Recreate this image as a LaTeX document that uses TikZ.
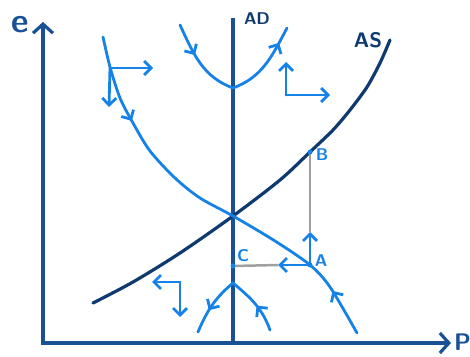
\documentclass[tikz,border=0pt]{standalone}
\usetikzlibrary{arrows.meta, decorations.markings}

\definecolor{axisblue}{RGB}{26,80,148}
\definecolor{asblue}{RGB}{14,58,112}
\definecolor{flowblue}{RGB}{22,130,232}
\definecolor{guidegray}{RGB}{160,160,160}

\tikzset{
  axisline/.style={axisblue, line width=3.2pt,
    {Straight Barb[length=9pt,width=20pt]}-{Straight Barb[length=9pt,width=20pt]}},
  flow/.style={flowblue, line width=2.8pt, line cap=round},
  flowarrow/.style={flow, -{Straight Barb[length=7pt,width=14pt]}},
  fwd/.style={postaction={decorate, decoration={markings,
    mark=at position #1 with {\arrow{Straight Barb[length=7pt,width=14pt]}}}}},
  bwd/.style={postaction={decorate, decoration={markings,
    mark=at position #1 with {\arrowreversed{Straight Barb[length=7pt,width=14pt]}}}}},
  dot/.style={circle, fill=flowblue, inner sep=0pt, minimum size=5pt},
  lbl/.style={font=\sffamily\bfseries\fontsize{17}{17}\selectfont, inner sep=0pt},
}

\begin{document}
\begin{tikzpicture}[x=1pt, y=1pt]
  \useasboundingbox (0,0) rectangle (470,356);

  % axes
  \coordinate (ytop) at (43,334);
  \coordinate (O) at (43,13);
  \coordinate (xend) at (451,13);
  \draw[axisline] (ytop) -- (O) -- (xend);
  \node[lbl, axisblue, font=\sffamily\bfseries\fontsize{34}{34}\selectfont] (elabel) at (20,331) {e};
  \node[lbl, axisblue, font=\sffamily\bfseries\fontsize{24}{24}\selectfont, anchor=north west] (plabel) at (454,22) {P};

  % key points
  \coordinate (E) at (233,140);
  \coordinate (A) at (310,91);
  \coordinate (B) at (310,204);
  \coordinate (C) at (233,90);

  % AD line
  \coordinate (adtop) at (233,338);
  \coordinate (adbot) at (233,13);
  \draw[axisblue, line width=3.2pt] (adbot) -- (adtop);
  \node[lbl, asblue] (adlabel) at (257,337) {AD};

  % AS curve
  \draw[asblue, line width=3.2pt, line cap=round] plot[smooth] coordinates
    {(93,53) (133,74) (180,103) (E) (280,176) (B) (333,226) (350,246) (367,269) (380,293) (390,316)};
  \node[lbl, asblue, font=\sffamily\bfseries\fontsize{21}{21}\selectfont] (aslabel) at (368,316) {AS};

  % saddle path
  \draw[flow, fwd=0.22, bwd=0.88] plot[smooth] coordinates
    {(103,319) (110,289) (120,258) (133,233) (150,205) (175,178) (200,158) (E) (275,115) (A) (330,69) (357,23)};

  % upper trajectory
  \coordinate (t1) at (180,331);
  \coordinate (T) at (233,268);
  \coordinate (t2) at (287,328);
  \draw[flow, fwd=0.2, fwd=0.9] (t1) to[out=-65,in=160] (T) to[out=20,in=-118] (t2);

  % lower trajectory
  \coordinate (b2) at (270,26);
  \coordinate (V) at (233,73);
  \coordinate (b1) at (198,24);
  \draw[flow, fwd=0.23, fwd=0.8] (b2) to[out=110,in=-40] (V) to[out=220,in=67] (b1);

  % direction arrows
  \coordinate (tl) at (110,288);
  \coordinate (tlright) at (153,288);
  \coordinate (tldown) at (109,249);
  \draw[flowarrow] (tl) -- (tlright);
  \draw[flowarrow] (tl) -- (tldown);
  \coordinate (tr) at (286,261);
  \coordinate (trup) at (286,294);
  \coordinate (trright) at (330,261);
  \draw[flowarrow] (tr) -- (trup);
  \draw[flowarrow] (tr) -- (trright);
  \coordinate (bl) at (180,74);
  \coordinate (blleft) at (152,74);
  \coordinate (bldown) at (180,39);
  \draw[flowarrow] (bl) -- (blleft);
  \draw[flowarrow] (bl) -- (bldown);

  % adjustment from A
  \coordinate (aup) at (310,124);
  \coordinate (aleft) at (278,91);
  \draw[guidegray, line width=2.5pt] (aup) -- (B);
  \draw[guidegray, line width=2.5pt] (aleft) -- (C);
  \draw[flowarrow] (A) -- (aup);
  \draw[flowarrow] (A) -- (aleft);

  \node[dot] (adot) at (A) {};
  \node[dot] (bdot) at (B) {};
  \node[dot] (cdot) at (C) {};
  \node[lbl, flowblue] (alabel) at (321,95) {A};
  \node[lbl, flowblue] (blabel) at (322,201) {B};
  \node[lbl, flowblue] (clabel) at (243,100) {C};
\end{tikzpicture}
\end{document}
